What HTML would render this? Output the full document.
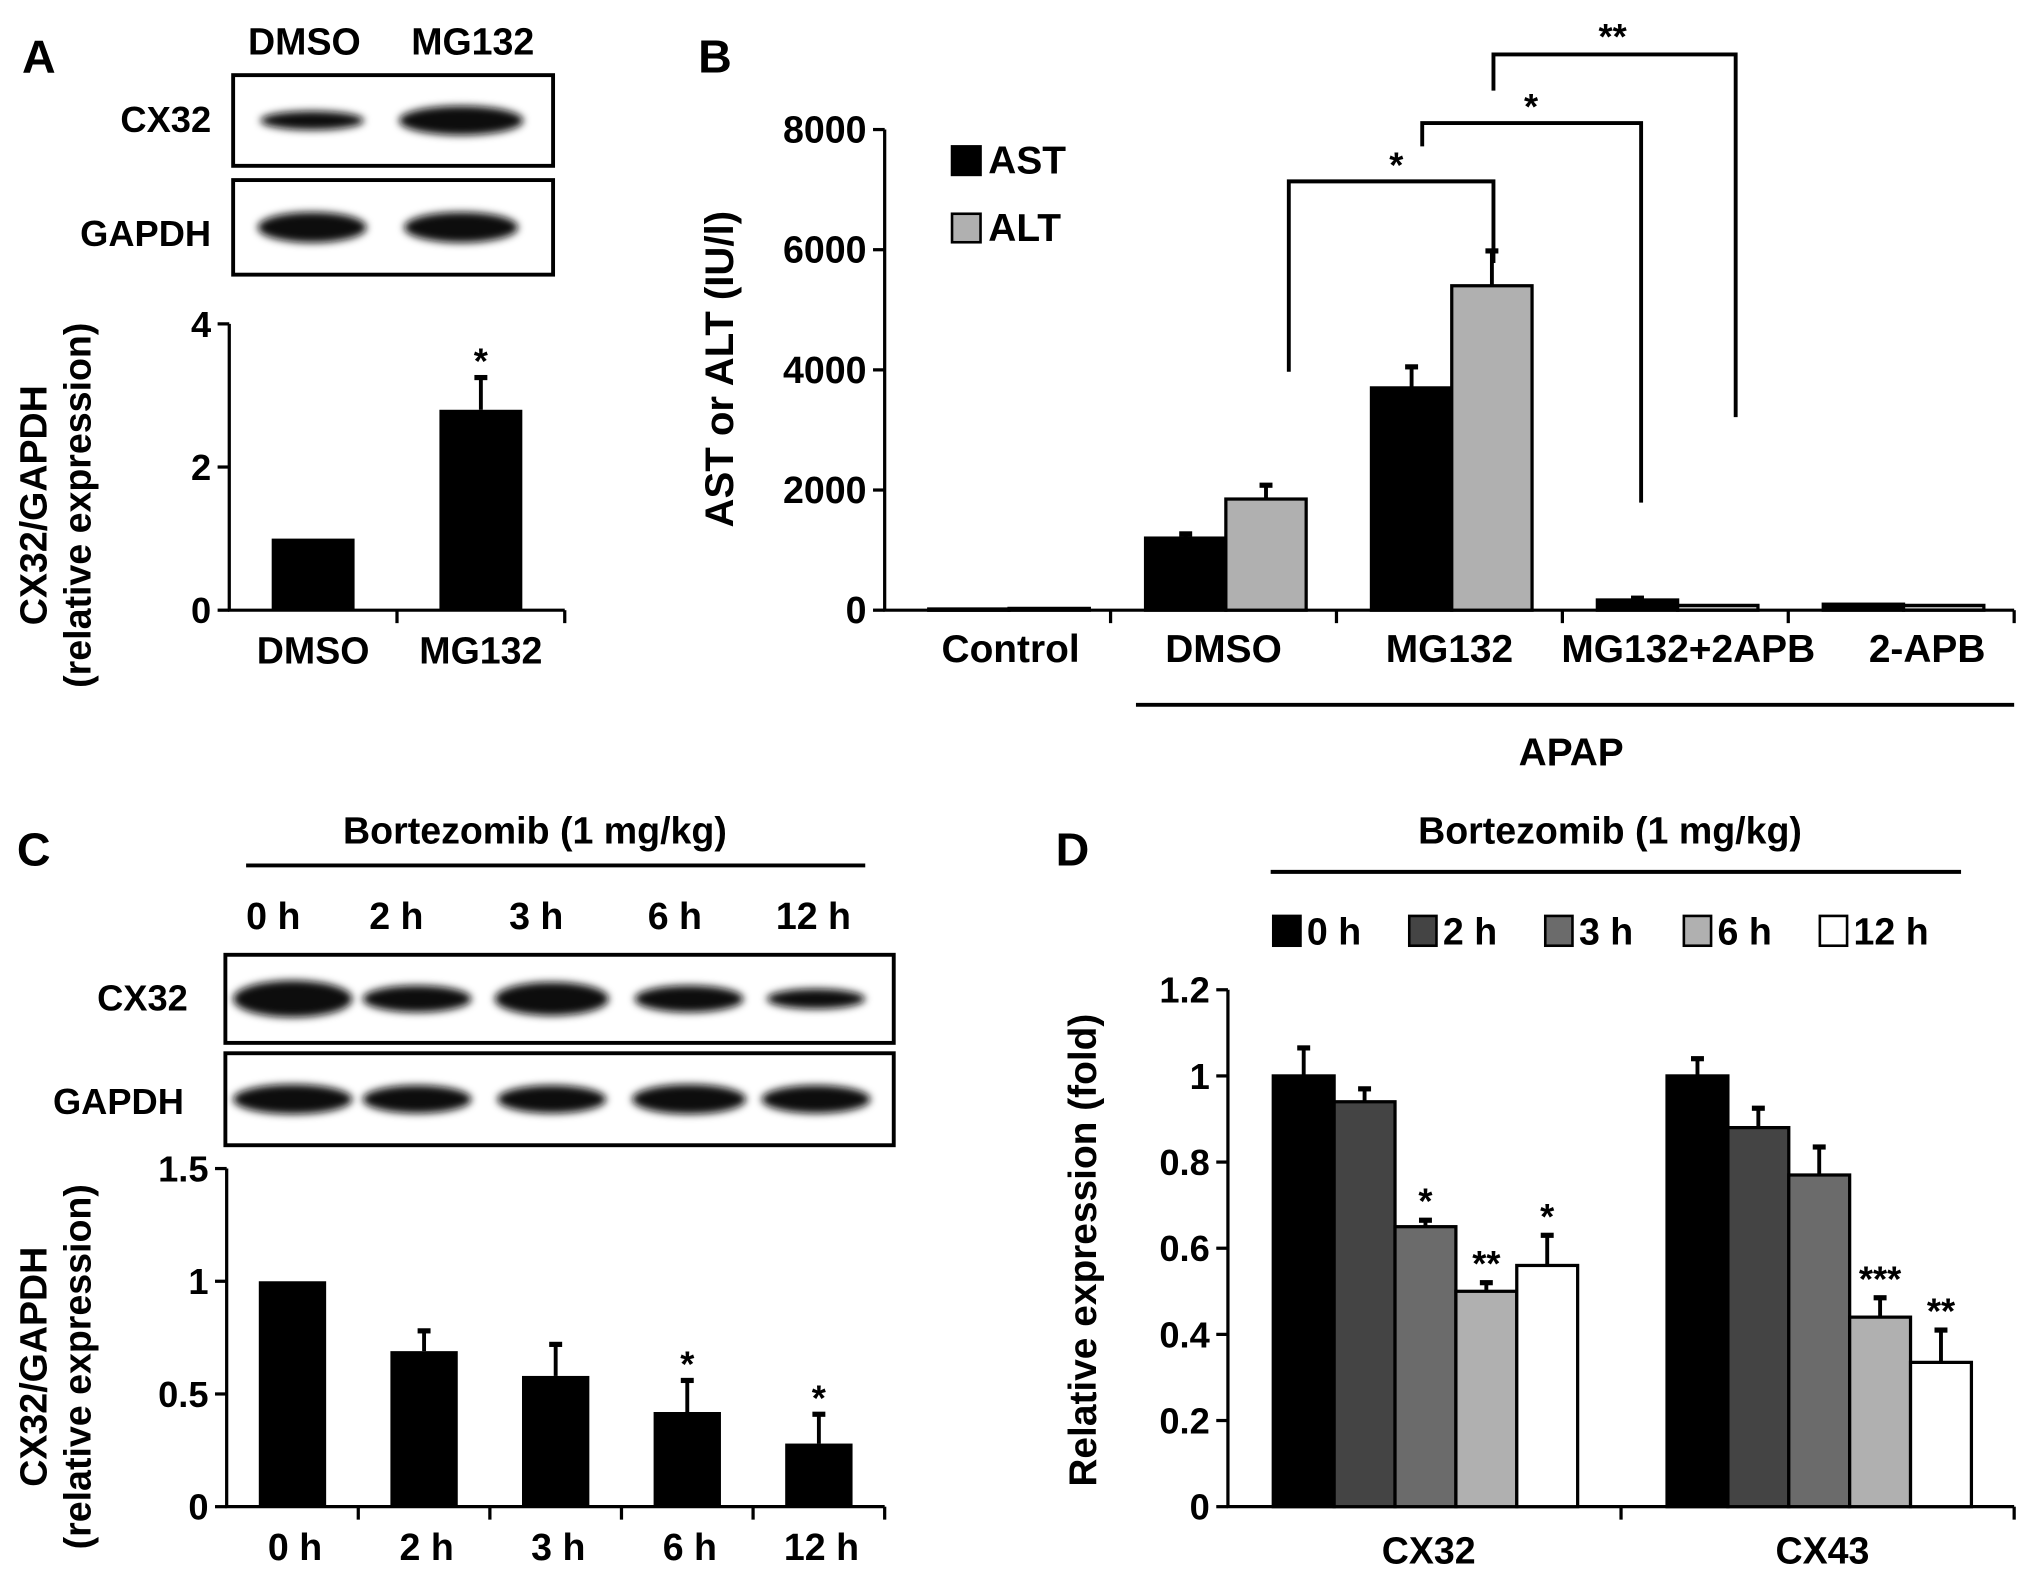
<!DOCTYPE html>
<html><head><meta charset="utf-8"><style>
html,body{margin:0;padding:0;background:#fff;}
svg{display:block;}
text{font-family:"Liberation Sans","Noto Sans CJK KR",sans-serif;font-weight:bold;fill:#000;}
</style></head><body>
<svg id="fig" width="2031" height="1587" viewBox="0 0 1568 1225" preserveAspectRatio="none" xmlns="http://www.w3.org/2000/svg">
<defs>
<filter id="blur" x="-20%" y="-50%" width="140%" height="200%"><feGaussianBlur stdDeviation="3"/></filter>
</defs>
<g id="gA"></g>
<g id="gB"></g>
<g id="gC"></g>
<g id="gD"></g>
</svg>
<script>
// Panel A data
const aCats = ['DMSO', 'MG132'];
const aVals = [1, 2.8];
const aErr = [0, 0.45];
const aStars = ['', '*'];
const aTicks = [0, 2, 4];
// Panel B data
const bCats = ['Control', 'DMSO', 'MG132', 'MG132+2APB', '2-APB'];
const bAST = [20, 1200, 3700, 170, 100];
const bASTerr = [0, 70, 350, 30, 0];
const bALT = [30, 1850, 5400, 80, 80];
const bALTerr = [0, 230, 580, 0, 0];
const bTicks = [0, 2000, 4000, 6000, 8000];
// Panel C data
const cCats = ['0 h', '2 h', '3 h', '6 h', '12 h'];
const cVals = [1, 0.69, 0.58, 0.42, 0.28];
const cErr = [0, 0.09, 0.14, 0.14, 0.13];
const cStars = ['', '', '', '*', '*'];
const cTickLabels = ['0', '0.5', '1', '1.5'];
const cTicks = [0, 0.5, 1, 1.5];
// Panel D data
const dGroups = ['CX32', 'CX43'];
const dSeries = ['0 h', '2 h', '3 h', '6 h', '12 h'];
const dCX32 = [1.0, 0.94, 0.65, 0.50, 0.56];
const dCX32err = [0.065, 0.03, 0.015, 0.02, 0.07];
const dCX43 = [1.0, 0.88, 0.77, 0.44, 0.335];
const dCX43err = [0.04, 0.045, 0.065, 0.045, 0.075];
const dCX32stars = ['', '', '*', '**', '*'];
const dCX43stars = ['', '', '', '***', '**'];
const dTicks = [0, 0.2, 0.4, 0.6, 0.8, 1, 1.2];
const dColors = ['#000', '#444', '#6b6b6b', '#b0b0b0', '#fff'];

const NS = 'http://www.w3.org/2000/svg';
function mk(parent, tag, attrs, txt) {
  const e = document.createElementNS(NS, tag);
  for (const k in attrs) e.setAttribute(k, attrs[k]);
  if (txt !== undefined) e.textContent = txt;
  parent.appendChild(e);
  return e;
}
function line(p, x1, y1, x2, y2, w) { return mk(p, 'line', {x1, y1, x2, y2, stroke: '#000', 'stroke-width': w || 2.5}); }
function txt(p, x, y, s, size, anchor, name) {
  const t = mk(p, 'text', {x, y, 'font-size': size, 'text-anchor': anchor || 'middle'}, s);
  
  
  return t;
}
function errbar(p, cx, y1, y2) {
  line(p, cx, y1, cx, y2, 3);
  line(p, cx - 5, y2, cx + 5, y2, 4);
}
function blot(p, x, y, w, h, centers, widths, dark, name) {
  const g = mk(p, 'g', {});
  
  
  mk(g, 'rect', {x, y, width: w, height: h, fill: '#fff', stroke: '#000', 'stroke-width': 3});
  centers.forEach((c, i) => {
    const e = mk(g, 'ellipse', {cx: c, cy: y + h / 2, rx: widths[i] / 2, ry: h * 0.19 * dark[i], fill: '#111', filter: 'url(#blur)'});
    
    
  });
}
function rotText(p, x, y, s, size, name) {
  const t = mk(p, 'text', {x: 0, y: 0, 'font-size': size, 'text-anchor': 'middle', transform: `translate(${x},${y}) rotate(-90)`}, s);
  
  
}

// ---------- Panel A ----------
(function () {
  const g = document.getElementById('gA');
  txt(g, 30, 56, 'A', 36, 'middle', 'panel-label-a');
  txt(g, 235, 42, 'DMSO', 29, 'middle', 'blot-lane-dmso');
  txt(g, 365, 42, 'MG132', 29, 'middle', 'blot-lane-mg132');
  txt(g, 163, 102, 'CX32', 28, 'end', 'blot-label-cx32');
  txt(g, 163, 190, 'GAPDH', 28, 'end', 'blot-label-gapdh');
  blot(g, 180, 58, 247, 70, [241, 356], [80, 96], [0.55, 0.85], 'blot-cx32');
  blot(g, 180, 139, 247, 73, [241, 356], [84, 88], [0.85, 0.85], 'blot-gapdh');
  const x0 = 177, x1 = 436, yB = 471, yT = 250, vmax = 4;
  const y = v => yB - (v / vmax) * (yB - yT);
  const bw = (x1 - x0) / aCats.length;
  line(g, x0, yT, x0, yB + 1);
  line(g, x0 - 1, yB, x1, yB);
  aTicks.forEach(t => { line(g, x0 - 9, y(t), x0, y(t)); txt(g, x0 - 14, y(t) + 10, String(t), 28, 'end', 'a-y-tick-label'); });
  aCats.forEach((c, i) => {
    const cx = x0 + bw * (i + 0.5);
    line(g, x0 + bw * (i + 1), yB, x0 + bw * (i + 1), yB + 10);
    if (aErr[i] > 0) errbar(g, cx, y(aVals[i]), y(aVals[i] + aErr[i]));
    const r = mk(g, 'rect', {x: cx - 32, y: y(aVals[i]), width: 64, height: yB - y(aVals[i]), fill: '#000'});
    
    
    if (aStars[i]) txt(g, cx, y(aVals[i] + aErr[i]) - 3, aStars[i], 28, 'middle', 'significance-star');
    txt(g, cx, 512, c, 29, 'middle', 'a-x-label');
  });
  rotText(g, 36, 390, 'CX32/GAPDH', 29, 'a-y-axis-title');
  rotText(g, 70, 390, '(relative expression)', 29, 'a-y-axis-title-2');
})();

// ---------- Panel B ----------
(function () {
  const g = document.getElementById('gB');
  txt(g, 552, 56, 'B', 36, 'middle', 'panel-label-b');
  const x0 = 683, x1 = 1555, yB = 471, yT = 100, vmax = 8000;
  const y = v => yB - (v / vmax) * (yB - yT);
  line(g, x0, yT, x0, yB + 1);
  line(g, x0 - 1, yB, x1, yB);
  bTicks.forEach(t => { line(g, x0 - 9, y(t), x0, y(t)); txt(g, x0 - 14, y(t) + 10, String(t), 29, 'end', 'b-y-tick-label'); });
  const gw = (x1 - x0) / bCats.length;
  bCats.forEach((c, i) => {
    const gx = x0 + gw * i;
    line(g, gx + gw, yB, gx + gw, yB + 10);
    const xa = gx + 34 + (i === 0 ? 0 : -7), xl = xa + 62;
    [[bAST, bASTerr, '#000', xa, 'ast'], [bALT, bALTerr, '#b0b0b0', xl, 'alt']].forEach(([v, e, col, bx, nm]) => {
      if (e[i] > 0) errbar(g, bx + 31, y(v[i]), y(v[i] + e[i]));
      const r = mk(g, 'rect', {x: bx, y: y(v[i]), width: 62, height: Math.max(yB - y(v[i]), 1), fill: col, stroke: '#000', 'stroke-width': 2.5});
      
      
    });
    txt(g, gx + gw / 2 + (i === 3 ? 10 : 0) + (i === 0 ? 10 : 0) + (i === 4 ? 20 : 0), 511, c, 30, 'middle', 'b-x-label');
  });
  rotText(g, 566, 285, 'AST or ALT (IU/l)', 31, 'b-y-axis-title');
  // legend
  const l1 = mk(g, 'rect', {x: 735, y: 113, width: 22, height: 22, fill: '#000', stroke: '#000', 'stroke-width': 2});
   
  txt(g, 763, 134, 'AST', 30, 'start', 'legend-label-ast');
  const l2 = mk(g, 'rect', {x: 735, y: 165, width: 22, height: 22, fill: '#b0b0b0', stroke: '#000', 'stroke-width': 2});
   
  txt(g, 763, 186, 'ALT', 30, 'start', 'legend-label-alt');
  // brackets
  const br = (pts, name) => { const p = mk(g, 'polyline', {points: pts, fill: 'none', stroke: '#000', 'stroke-width': 3});   };
  br('995,287 995,140 1153,140 1153,203', 'bracket-dmso-mg132');
  txt(g, 1078, 137, '*', 28, 'middle', 'bracket-star-1');
  br('1098,113 1098,95 1267,95 1267,388', 'bracket-mg132-2apb');
  txt(g, 1182, 92, '*', 28, 'middle', 'bracket-star-2');
  br('1153,70 1153,42 1340,42 1340,322', 'bracket-mg132-2apb-only');
  txt(g, 1245, 38, '**', 28, 'middle', 'bracket-star-3');
  line(g, 877, 544, 1555, 544, 3);
  txt(g, 1213, 591, 'APAP', 30, 'middle', 'apap-label');
})();

// ---------- Panel C ----------
(function () {
  const g = document.getElementById('gC');
  txt(g, 26, 668, 'C', 36, 'middle', 'panel-label-c');
  txt(g, 413, 651, 'Bortezomib (1 mg/kg)', 29, 'middle', 'c-treatment-label');
  line(g, 190, 668, 668, 668, 3);
  const lx = [211, 306, 414, 521, 628];
  cCats.forEach((c, i) => txt(g, lx[i], 717, c, 29, 'middle', 'blot-time-label'));
  txt(g, 145, 780, 'CX32', 28, 'end', 'c-blot-label-cx32');
  txt(g, 142, 860, 'GAPDH', 28, 'end', 'c-blot-label-gapdh');
  blot(g, 174, 737, 516, 68, [226, 322, 426, 532, 630], [92, 84, 88, 84, 76], [1.1, 0.8, 1.0, 0.8, 0.6], 'c-blot-cx32');
  blot(g, 174, 813, 516, 71, [226, 322, 426, 532, 630], [92, 84, 84, 88, 84], [0.85, 0.8, 0.8, 0.85, 0.8], 'c-blot-gapdh');
  const x0 = 175, x1 = 683, yB = 1163, yT = 902, vmax = 1.5;
  const y = v => yB - (v / vmax) * (yB - yT);
  line(g, x0, yT, x0, yB + 1);
  line(g, x0 - 1, yB, x1, yB);
  cTicks.forEach((t, i) => { line(g, x0 - 9, y(t), x0, y(t)); txt(g, x0 - 14, y(t) + 10, cTickLabels[i], 28, 'end', 'c-y-tick-label'); });
  const bw = (x1 - x0) / cCats.length;
  cCats.forEach((c, i) => {
    const cx = x0 + bw * (i + 0.5);
    line(g, x0 + bw * (i + 1), yB, x0 + bw * (i + 1), yB + 10);
    if (cErr[i] > 0) errbar(g, cx, y(cVals[i]), y(cVals[i] + cErr[i]));
    const r = mk(g, 'rect', {x: cx - 26, y: y(cVals[i]), width: 52, height: yB - y(cVals[i]), fill: '#000'});
    
    
    if (cStars[i]) txt(g, cx, y(cVals[i] + cErr[i]) - 3, cStars[i], 28, 'middle', 'significance-star');
    txt(g, cx + 2, 1204, c, 29, 'middle', 'c-x-label');
  });
  rotText(g, 36, 1055, 'CX32/GAPDH', 29, 'c-y-axis-title');
  rotText(g, 70, 1055, '(relative expression)', 29, 'c-y-axis-title-2');
})();

// ---------- Panel D ----------
(function () {
  const g = document.getElementById('gD');
  txt(g, 828, 668, 'D', 36, 'middle', 'panel-label-d');
  txt(g, 1243, 651, 'Bortezomib (1 mg/kg)', 29, 'middle', 'd-treatment-label');
  line(g, 981, 673, 1514, 673, 3);
  const legX = [983, 1088, 1193, 1300, 1405];
  dSeries.forEach((s, i) => {
    const r = mk(g, 'rect', {x: legX[i], y: 707, width: 21, height: 23, fill: dColors[i], stroke: '#000', 'stroke-width': 2});
    
    
    txt(g, legX[i] + 26, 729, s, 29, 'start', 'legend-label');
  });
  const x0 = 948, x1 = 1555, yB = 1163, yT = 764, vmax = 1.2;
  const y = v => yB - (v / vmax) * (yB - yT);
  line(g, x0, yT, x0, yB + 1);
  line(g, x0 - 1, yB, x1, yB);
  dTicks.forEach(t => { line(g, x0 - 9, y(t), x0, y(t)); txt(g, x0 - 14, y(t) + 10, String(t), 28, 'end', 'd-y-tick-label'); });
  const gw = (x1 - x0) / dGroups.length;
  const vals = [dCX32, dCX43], errs = [dCX32err, dCX43err], stars = [dCX32stars, dCX43stars];
  const gStart = [983, 1287];
  dGroups.forEach((gr, gi) => {
    line(g, x0 + gw * (gi + 1), yB, x0 + gw * (gi + 1), yB + 10);
    dSeries.forEach((s, i) => {
      const bx = gStart[gi] + i * 47, v = vals[gi][i], e = errs[gi][i];
      errbar(g, bx + 23.5, y(v), y(v + e));
      const r = mk(g, 'rect', {x: bx, y: y(v), width: 47, height: yB - y(v), fill: dColors[i], stroke: '#000', 'stroke-width': 2.5});
      
      
      if (stars[gi][i]) txt(g, bx + 23.5, y(v + e) - 5, stars[gi][i], 28, 'middle', 'significance-star');
    });
    txt(g, gStart[gi] + 120, 1207, gr, 29, 'middle', 'd-x-label');
  });
  rotText(g, 846, 965, 'Relative expression (fold)', 30, 'd-y-axis-title');
})();
</script>
</body></html>
